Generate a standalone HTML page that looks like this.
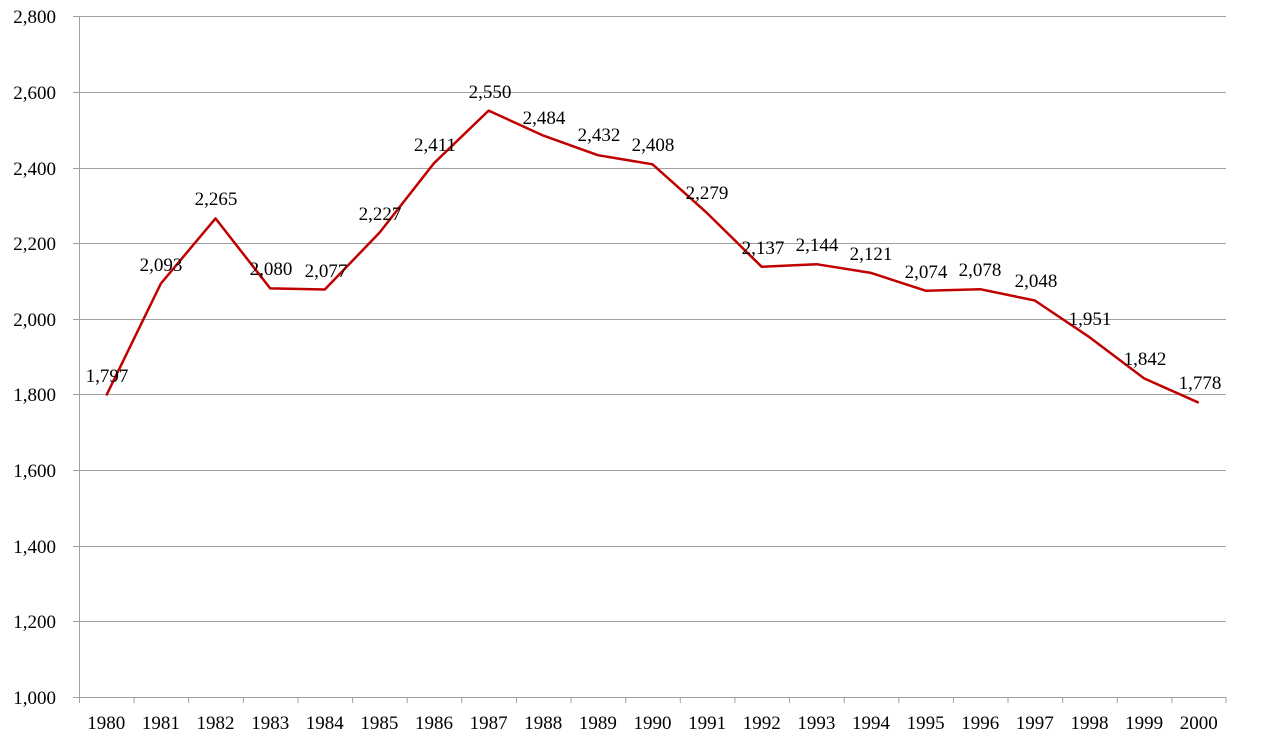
<!DOCTYPE html>
<html><head><meta charset="utf-8"><style>body{margin:0;background:#fff}svg{display:block}text{font-family:"Liberation Serif",serif;font-size:19px;fill:#000}</style></head><body>
<svg width="1272" height="741" xmlns="http://www.w3.org/2000/svg">
<g stroke="#a0a0a0" stroke-width="1">
<line x1="79" y1="16.5" x2="1226" y2="16.5"/><line x1="79" y1="92.5" x2="1226" y2="92.5"/><line x1="79" y1="168.5" x2="1226" y2="168.5"/><line x1="79" y1="243.5" x2="1226" y2="243.5"/><line x1="79" y1="319.5" x2="1226" y2="319.5"/><line x1="79" y1="394.5" x2="1226" y2="394.5"/><line x1="79" y1="470.5" x2="1226" y2="470.5"/><line x1="79" y1="546.5" x2="1226" y2="546.5"/><line x1="79" y1="621.5" x2="1226" y2="621.5"/>
<line x1="79.5" y1="16" x2="79.5" y2="697"/><line x1="79" y1="697.5" x2="1226" y2="697.5"/>
<line x1="73" y1="16.5" x2="79" y2="16.5"/><line x1="73" y1="92.5" x2="79" y2="92.5"/><line x1="73" y1="168.5" x2="79" y2="168.5"/><line x1="73" y1="243.5" x2="79" y2="243.5"/><line x1="73" y1="319.5" x2="79" y2="319.5"/><line x1="73" y1="394.5" x2="79" y2="394.5"/><line x1="73" y1="470.5" x2="79" y2="470.5"/><line x1="73" y1="546.5" x2="79" y2="546.5"/><line x1="73" y1="621.5" x2="79" y2="621.5"/><line x1="73" y1="697.5" x2="79" y2="697.5"/>
<path d="M79.5 697v6M134.1 697v6M188.7 697v6M243.4 697v6M298 697v6M352.6 697v6M407.2 697v6M461.8 697v6M516.5 697v6M571.1 697v6M625.7 697v6M680.3 697v6M734.9 697v6M789.6 697v6M844.2 697v6M898.8 697v6M953.4 697v6M1008 697v6M1062.7 697v6M1117.3 697v6M1171.9 697v6M1226 697v6"/>
</g>
<g text-anchor="end">
<text x="56" y="23">2,800</text><text x="56" y="99">2,600</text><text x="56" y="175">2,400</text><text x="56" y="250">2,200</text><text x="56" y="326">2,000</text><text x="56" y="401">1,800</text><text x="56" y="477">1,600</text><text x="56" y="553">1,400</text><text x="56" y="628">1,200</text><text x="56" y="704">1,000</text>
</g>
<g text-anchor="middle">
<text x="106.3" y="729">1980</text><text x="160.9" y="729">1981</text><text x="215.5" y="729">1982</text><text x="270.2" y="729">1983</text><text x="324.8" y="729">1984</text><text x="379.4" y="729">1985</text><text x="434" y="729">1986</text><text x="488.6" y="729">1987</text><text x="543.3" y="729">1988</text><text x="597.9" y="729">1989</text><text x="652.5" y="729">1990</text><text x="707.1" y="729">1991</text><text x="761.7" y="729">1992</text><text x="816.4" y="729">1993</text><text x="871" y="729">1994</text><text x="925.6" y="729">1995</text><text x="980.2" y="729">1996</text><text x="1034.8" y="729">1997</text><text x="1089.5" y="729">1998</text><text x="1144.1" y="729">1999</text><text x="1198.7" y="729">2000</text>
</g>
<polyline fill="none" stroke="#c00000" stroke-width="2.5" stroke-linejoin="round" points="106.3,395.5 160.9,283.5 215.5,218.4 270.2,288.4 324.8,289.5 379.4,232.8 434,163.2 488.6,110.6 543.3,135.6 597.9,155.2 652.5,164.3 707.1,213.1 761.7,266.8 816.4,264.2 871,272.9 925.6,290.7 980.2,289.2 1034.8,300.5 1089.5,337.2 1144.1,378.4 1198.7,402.7"/>
<g text-anchor="middle">
<text x="107" y="382">1,797</text><text x="161" y="271">2,093</text><text x="216" y="205">2,265</text><text x="271" y="275">2,080</text><text x="326" y="277">2,077</text><text x="380" y="220">2,227</text><text x="435" y="151">2,411</text><text x="490" y="98">2,550</text><text x="544" y="124">2,484</text><text x="599" y="141">2,432</text><text x="653" y="151">2,408</text><text x="707" y="199">2,279</text><text x="763" y="254">2,137</text><text x="817" y="251">2,144</text><text x="871" y="260">2,121</text><text x="926" y="278">2,074</text><text x="980" y="276">2,078</text><text x="1036" y="287">2,048</text><text x="1090" y="325">1,951</text><text x="1145" y="365">1,842</text><text x="1200" y="389">1,778</text>
</g>
</svg>
</body></html>
